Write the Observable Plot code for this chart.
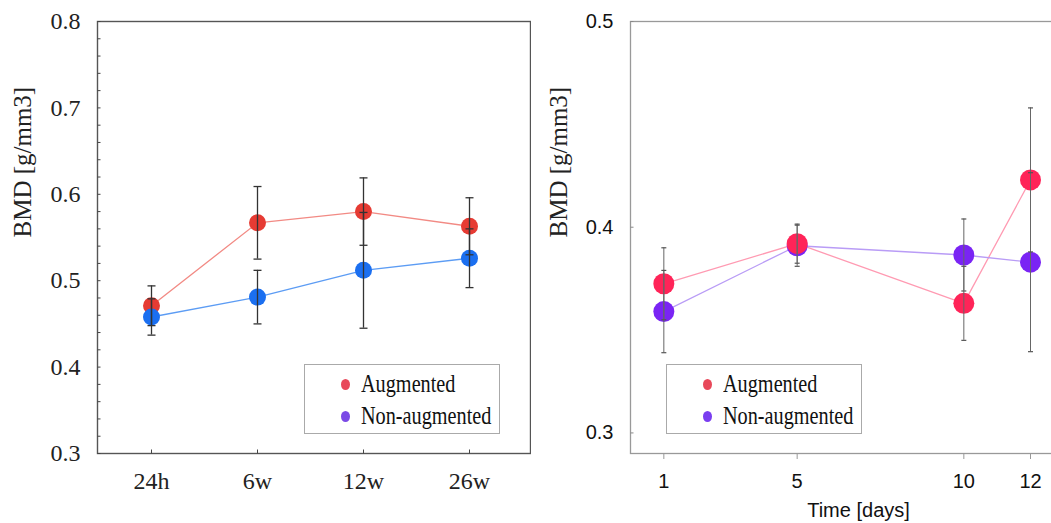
<!DOCTYPE html>
<html>
<head>
<meta charset="utf-8">
<script src="https://cdn.jsdelivr.net/npm/d3@7"></script>
<script src="https://cdn.jsdelivr.net/npm/@observablehq/plot@0.6"></script>
<style>
  html, body { margin: 0; padding: 0; background: #fff; overflow: hidden; }
  #wrap { position: relative; width: 1051px; height: 523px; overflow: hidden; }
  #left { position: absolute; left: 0; top: 0; width: 531px; }
  #right { position: absolute; left: 530px; top: 0; width: 540px; }
  #wrap svg { max-width: none !important; }
  .legend { position: absolute; border: 1px solid #aaa; background: #fff; box-sizing: border-box; width: 196px; height: 70px; }
  .legend .row { position: absolute; left: 0; height: 30px; width: 100%; }
  .legend .dot { position: absolute; width: 9px; height: 11px; border-radius: 50%; left: 36px; top: 10px; }
  .legend .lbl { position: absolute; left: 56px; top: 0; font-family: "Liberation Serif", serif; font-size: 25px; line-height: 30px; color: #111; transform: scaleX(0.81); transform-origin: left center; white-space: nowrap; }
</style>
</head>
<body>
<div id="wrap">
  <div id="left"></div>
  <div id="right"></div>
</div>
<script>
// ---- Left panel data ----
const leftCats = ["24h", "6w", "12w", "26w"];
const leftAug = [0.471, 0.567, 0.580, 0.563];
const leftAugErr = [0.023, 0.042, 0.039, 0.033];
const leftNon = [0.458, 0.481, 0.512, 0.526];
const leftNonErr = [0.021, 0.031, 0.067, 0.034];
const leftYTicks = [0.3, 0.4, 0.5, 0.6, 0.7, 0.8];

// ---- Right panel data ----
const rightDays = [1, 5, 10, 12];
const rightAug = [0.3725, 0.392, 0.363, 0.423];
const rightAugErr = [0.0175, 0.0095, 0.018, 0.035];
const rightNon = [0.359, 0.391, 0.3865, 0.383];
const rightNonErr = [0.020, 0.010, 0.0175, 0.0435];
const rightYTicks = [0.3, 0.4, 0.5];

const seriesNames = ["Augmented", "Non-augmented"];
const yLabel = "BMD [g/mm3]";
const xLabelRight = "Time [days]";

// custom symbols
const hCap = w => ({draw(ctx) { ctx.moveTo(-w / 2, 0); ctx.lineTo(w / 2, 0); }});
const hTickIn = l => ({draw(ctx) { ctx.moveTo(0, 0); ctx.lineTo(l, 0); }});
const vTickUp = l => ({draw(ctx) { ctx.moveTo(0, 0); ctx.lineTo(0, -l); }});

const leftA = leftCats.map((c, i) => ({x: c, y: leftAug[i], lo: leftAug[i] - leftAugErr[i], hi: leftAug[i] + leftAugErr[i]}));
const leftN = leftCats.map((c, i) => ({x: c, y: leftNon[i], lo: leftNon[i] - leftNonErr[i], hi: leftNon[i] + leftNonErr[i]}));
const leftMinor = d3.range(0, 26).map(i => 0.3 + i * 0.02);

const serif = "Liberation Serif";
const sans = "Liberation Sans";

const leftPlot = Plot.plot({
  width: 531, height: 523,
  marginLeft: 97, marginRight: 1, marginTop: 21, marginBottom: 70,
  style: {fontFamily: serif, fontSize: "24px", color: "#222", background: "transparent", maxWidth: "none"},
  x: {type: "point", domain: leftCats, range: [150, 469], padding: 0},
  y: {domain: [0.3, 0.8]},
  marks: [
    Plot.frame({stroke: "#555", strokeWidth: 1.4}),
    Plot.axisY({ticks: leftYTicks, tickSize: 0, tickPadding: 17, tickFormat: d => d.toFixed(1), label: null, fontSize: 24, fontFamily: serif}),
    Plot.dot(leftMinor, {y: d => d, frameAnchor: "left", symbol: hTickIn(3), stroke: "#444", strokeWidth: 1, r: 3}),
    Plot.axisX({tickSize: 0, tickPadding: 18, label: null, fontSize: 24, fontFamily: serif}),
    Plot.dot(leftCats, {x: d => d, frameAnchor: "bottom", symbol: vTickUp(4), stroke: "#444", strokeWidth: 1, r: 3}),
    Plot.line(leftA, {x: "x", y: "y", stroke: "#f28a84", strokeWidth: 1.3}),
    Plot.line(leftN, {x: "x", y: "y", stroke: "#5c9cf4", strokeWidth: 1.3}),
    Plot.dot(leftA, {x: "x", y: "y", r: 8.5, fill: "#e63b33"}),
    Plot.dot(leftN, {x: "x", y: "y", r: 8.5, fill: "#1b6ff0"}),
    Plot.ruleX(leftA, {x: "x", y1: "lo", y2: "hi", stroke: "#333", strokeWidth: 1.3}),
    Plot.ruleX(leftN, {x: "x", y1: "lo", y2: "hi", stroke: "#333", strokeWidth: 1.3}),
    Plot.dot(leftA.flatMap(d => [{x: d.x, y: d.lo}, {x: d.x, y: d.hi}]), {x: "x", y: "y", symbol: hCap(8), stroke: "#333", strokeWidth: 1.3, r: 3}),
    Plot.dot(leftN.flatMap(d => [{x: d.x, y: d.lo}, {x: d.x, y: d.hi}]), {x: "x", y: "y", symbol: hCap(8), stroke: "#333", strokeWidth: 1.3, r: 3}),
    Plot.text([yLabel], {frameAnchor: "left", dx: -75, rotate: -90, fontSize: 25, fontFamily: serif, fill: "#222"})
  ]
});
document.getElementById("left").appendChild(leftPlot);

const rightA = rightDays.map((d, i) => ({x: d, y: rightAug[i], lo: rightAug[i] - rightAugErr[i], hi: rightAug[i] + rightAugErr[i]}));
const rightN = rightDays.map((d, i) => ({x: d, y: rightNon[i], lo: rightNon[i] - rightNonErr[i], hi: rightNon[i] + rightNonErr[i]}));

const rightPlot = Plot.plot({
  width: 540, height: 523,
  marginLeft: 100, marginRight: 0, marginTop: 21, marginBottom: 70,
  style: {fontFamily: sans, fontSize: "20px", color: "#111", background: "transparent", maxWidth: "none"},
  x: {domain: [0, 13.2]},
  y: {domain: [0.29, 0.5]},
  marks: [
    Plot.frame({stroke: "#999", strokeWidth: 1.3}),
    Plot.axisY({ticks: rightYTicks, tickSize: 0, tickPadding: 17, tickFormat: d => d.toFixed(1), label: null, fontSize: 20, fontFamily: sans}),
    Plot.dot(rightYTicks, {y: d => d, frameAnchor: "left", symbol: hTickIn(3), stroke: "#888", strokeWidth: 1, r: 3}),
    Plot.axisX({ticks: rightDays, tickSize: 6, tickPadding: 14, stroke: "#999", tickFormat: d => String(d), label: null, fontSize: 20, fontFamily: sans}),
    Plot.line(rightA, {x: "x", y: "y", stroke: "#ff9ab2", strokeWidth: 1.3}),
    Plot.line(rightN, {x: "x", y: "y", stroke: "#b99cf6", strokeWidth: 1.3}),
    Plot.dot(rightN, {x: "x", y: "y", r: 10.5, fill: "#7a24f4"}),
    Plot.dot(rightA, {x: "x", y: "y", r: 10.5, fill: "#ff2458"}),
    Plot.ruleX(rightA, {x: "x", y1: "lo", y2: "hi", stroke: "#666", strokeWidth: 1}),
    Plot.ruleX(rightN, {x: "x", y1: "lo", y2: "hi", stroke: "#666", strokeWidth: 1}),
    Plot.dot(rightA.flatMap(d => [{x: d.x, y: d.lo}, {x: d.x, y: d.hi}]), {x: "x", y: "y", symbol: hCap(5), stroke: "#555", strokeWidth: 1.2, r: 3}),
    Plot.dot(rightN.flatMap(d => [{x: d.x, y: d.lo}, {x: d.x, y: d.hi}]), {x: "x", y: "y", symbol: hCap(5), stroke: "#555", strokeWidth: 1.2, r: 3}),
    Plot.text([yLabel], {frameAnchor: "left", dx: -72, rotate: -90, fontSize: 25, fontFamily: serif, fill: "#222"}),
    Plot.text([xLabelRight], {frameAnchor: "bottom", dx: 8, dy: 63, fontSize: 20, fontFamily: sans, fill: "#111"})
  ]
});
document.getElementById("right").appendChild(rightPlot);

// ---- Legends (HTML) ----
function makeLegend(left, top, colors) {
  const box = document.createElement("div");
  box.className = "legend";
  box.style.left = left + "px";
  box.style.top = top + "px";
  seriesNames.forEach((name, i) => {
    const row = document.createElement("div");
    row.className = "row";
    row.style.top = (4 + i * 32) + "px";
    const dot = document.createElement("div");
    dot.className = "dot";
    dot.style.background = colors[i];
    const lbl = document.createElement("div");
    lbl.className = "lbl";
    lbl.textContent = name;
    row.appendChild(dot);
    row.appendChild(lbl);
    box.appendChild(row);
  });
  document.getElementById("wrap").appendChild(box);
}
makeLegend(304, 364, ["#e8485a", "#7b4ae6"]);
makeLegend(666, 364, ["#e8485a", "#7a3ef0"]);
</script>
</body>
</html>
